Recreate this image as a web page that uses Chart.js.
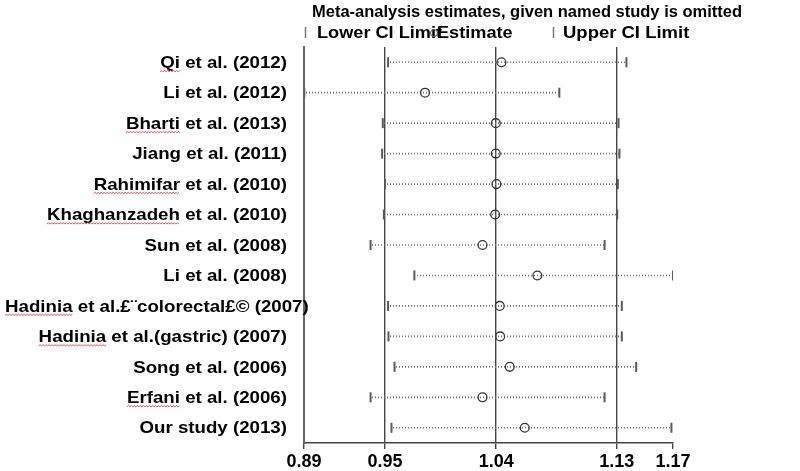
<!DOCTYPE html>
<html><head><meta charset="utf-8">
<script src="https://cdn.jsdelivr.net/npm/chart.js@4.4.0/dist/chart.umd.min.js"></script>
<style>html,body{margin:0;padding:0;background:#fff}#wrap{width:800px;height:471px}</style>
</head><body><div id="wrap"><canvas id="c" width="800" height="471"></canvas></div>
<script>
const studies = [
  "Qi et al. (2012)",
  "Li et al. (2012)",
  "Bharti et al. (2013)",
  "Jiang et al. (2011)",
  "Rahimifar et al. (2010)",
  "Khaghanzadeh et al. (2010)",
  "Sun et al. (2008)",
  "Li et al. (2008)",
  "Hadinia et al.\u00a3\u00a8colorectal\u00a3\u00a9 (2007)",
  "Hadinia et al.(gastric) (2007)",
  "Song et al. (2006)",
  "Erfani et al. (2006)",
  "Our study (2013)"
];
const estimates = [1.0401, 0.9820, 1.0358, 1.0358, 1.0363, 1.0353, 1.0257, 1.0674, 1.0388, 1.0391, 1.0464, 1.0257, 1.0578];
const lowerCI   = [0.9539, 0.8902, 0.9499, 0.9494, 0.9516, 0.9507, 0.9406, 0.9739, 0.9539, 0.9542, 0.9588, 0.9406, 0.9565];
const upperCI   = [1.1351, 1.0841, 1.1291, 1.1298, 1.1286, 1.1281, 1.1185, 1.1705, 1.1316, 1.1316, 1.1425, 1.1185, 1.1693];
const tickValues = [0.89, 0.9516, 1.0361, 1.1278, 1.1705];
const tickLabels = ["0.89", "0.95", "1.04", "1.13", "1.17"];
const overallLines = [0.9516, 1.0361, 1.1278];
const flaggedWords = ["Qi", "Bharti", "Rahimifar", "Khaghanzadeh", "Hadinia", "Erfani"];
const titleText = "Meta-analysis estimates, given named study is omitted";
const legendLower = "Lower CI Limit";
const legendEst = "Estimate";
const legendUpper = "Upper CI Limit";

const FONT = '"Liberation Sans", Arial, sans-serif';

// dotted pattern for CI lines
const pc = document.createElement('canvas');
pc.width = 3; pc.height = 4;
const pctx = pc.getContext('2d');
pctx.fillStyle = '#707070';
pctx.fillRect(0, 0, 1, 4);
const ctxMain = document.getElementById('c').getContext('2d');
const dotPattern = ctxMain.createPattern(pc, 'repeat');

function stretchText(ctx, text, x, y, sx, align) {
  ctx.save();
  const w = ctx.measureText(text).width * sx;
  let left = x;
  if (align === 'right') left = x - w;
  ctx.translate(left, y);
  ctx.scale(sx, 1);
  ctx.textAlign = 'left';
  ctx.fillText(text, 0, 0);
  ctx.restore();
  return {left: left, width: w};
}

function wavy(ctx, x0, x1, y) {
  ctx.save();
  ctx.strokeStyle = '#e05050';
  ctx.lineWidth = 1;
  ctx.beginPath();
  let up = true;
  ctx.moveTo(x0, y);
  for (let x = x0 + 1.5; x <= x1; x += 1.5) {
    ctx.lineTo(x, up ? y - 1.2 : y);
    up = !up;
  }
  ctx.stroke();
  ctx.restore();
}

const decor = {
  id: 'decor',
  afterDraw(chart) {
    const ctx = chart.ctx;
    const ys = chart.scales.y;
    ctx.save();
    ctx.fillStyle = '#000';
    ctx.textBaseline = 'middle';
    // title
    ctx.font = 'bold 16.5px ' + FONT;
    ctx.textAlign = 'left';
    ctx.fillText(titleText, 312, 12);
    // legend
    ctx.strokeStyle = '#777';
    ctx.lineWidth = 1.5;
    ctx.beginPath(); ctx.moveTo(305.5, 27); ctx.lineTo(305.5, 38); ctx.stroke();
    ctx.beginPath(); ctx.moveTo(553.5, 27); ctx.lineTo(553.5, 38); ctx.stroke();
    ctx.font = 'bold 16.5px ' + FONT;
    stretchText(ctx, legendLower, 317, 33, 1.1, 'left');
    ctx.strokeStyle = '#555';
    ctx.lineWidth = 1;
    ctx.beginPath(); ctx.arc(434, 33, 3.5, 0, Math.PI * 2); ctx.stroke();
    stretchText(ctx, legendEst, 437, 33, 1.1, 'left');
    stretchText(ctx, legendUpper, 563, 33, 1.12, 'left');
    // y labels
    ctx.font = 'bold 17px ' + FONT;
    const sx = 1.1;
    studies.forEach((s, i) => {
      const y = ys.getPixelForValue(i);
      const w = ctx.measureText(s).width * sx;
      let r = 287;
      if (r - w < 5) r = 5 + w;
      const res = stretchText(ctx, s, r, y + 1, sx, 'right');
      const first = s.split(' ')[0];
      if (flaggedWords.includes(first)) {
        const fw = ctx.measureText(first).width * sx;
        wavy(ctx, res.left, res.left + fw, y + 9.5);
      }
    });
    ctx.restore();
  }
};

new Chart(ctxMain, {
  type: 'bar',
  data: {
    labels: studies,
    datasets: [
      {
        type: 'line', label: 'Estimate', indexAxis: 'y',
        data: estimates, showLine: false,
        pointStyle: 'circle', pointRadius: 4.4,
        pointBorderColor: '#333', pointBackgroundColor: 'rgba(0,0,0,0)',
        pointBorderWidth: 1.3, order: 0
      },
      {
        type: 'line', label: 'Lower', indexAxis: 'y',
        data: lowerCI, showLine: false,
        pointStyle: 'line', rotation: 90, pointRadius: 5,
        pointBorderColor: '#5a5a5a', pointBorderWidth: 2, order: 1
      },
      {
        type: 'line', label: 'Upper', indexAxis: 'y',
        data: upperCI, showLine: false,
        pointStyle: 'line', rotation: 90, pointRadius: 5,
        pointBorderColor: '#5a5a5a', pointBorderWidth: 2, order: 2
      },
      {
        type: 'bar', label: 'CI', indexAxis: 'y',
        data: studies.map((s, i) => [lowerCI[i], upperCI[i]]),
        backgroundColor: dotPattern, borderWidth: 0,
        barThickness: 1, order: 3
      }
    ]
  },
  options: {
    indexAxis: 'y',
    responsive: false,
    animation: false,
    devicePixelRatio: 1,
    layout: {padding: {top: 47, right: 127, left: 0, bottom: 0}},
    plugins: {legend: {display: false}, title: {display: false}, tooltip: {enabled: false}},
    scales: {
      x: {
        type: 'linear', position: 'bottom',
        min: tickValues[0], max: tickValues[tickValues.length - 1],
        afterBuildTicks: (s) => { s.ticks = tickValues.map(v => ({value: v})); },
        afterFit: (s) => { s.height = 28; },
        ticks: {
          autoSkip: false, maxRotation: 0, padding: 2,
          color: '#000',
          font: {family: FONT, size: 18, weight: 'bold'},
          callback: (v, i) => tickLabels[i]
        },
        grid: {
          color: (c) => (c.tick && overallLines.includes(c.tick.value)) ? '#444' : 'rgba(0,0,0,0)',
          lineWidth: 1.4,
          tickLength: 6,
          tickColor: '#444',
          tickWidth: 1.4
        },
        border: {display: true, color: '#444', width: 1.5}
      },
      y: {
        type: 'category', offset: true,
        afterFit: (s) => { s.width = 304; },
        ticks: {display: false},
        grid: {display: false},
        border: {display: true, color: '#666', width: 2}
      }
    }
  },
  plugins: [decor]
});
</script>
</body></html>
